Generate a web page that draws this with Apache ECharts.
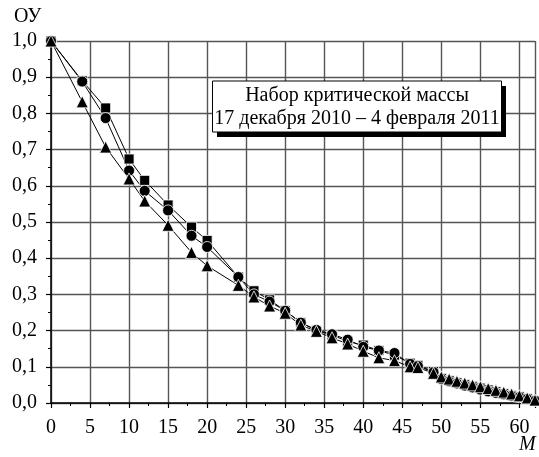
<!DOCTYPE html>
<html>
<head>
<meta charset="utf-8">
<script src="https://cdn.jsdelivr.net/npm/echarts@6/dist/echarts.min.js"></script>
<style>html,body{margin:0;padding:0;background:#fff}#c{width:539px;height:457px}</style>
</head>
<body>
<div id="c"></div>
<script>
const xValues = [0,4,7,10,12,15,18,20,24,26,28,30,32,34,36,38,40,42,44,46,47,49,50,51,52,53,54,55,56,57,58,59,60,61,62];
const squares = [1.0,0.890,0.815,0.674,0.615,0.547,0.486,0.449,0.348,0.310,0.285,0.255,0.222,0.200,0.188,0.170,0.160,0.145,0.132,0.110,0.104,0.087,0.068,0.062,0.056,0.051,0.046,0.041,0.036,0.031,0.026,0.021,0.017,0.012,0.006];
const circles = [1.0,0.888,0.787,0.642,0.586,0.532,0.462,0.431,0.348,0.300,0.280,0.255,0.222,0.202,0.190,0.175,0.155,0.145,0.138,0.108,0.102,0.085,0.066,0.060,0.054,0.048,0.043,0.037,0.032,0.028,0.024,0.020,0.016,0.011,0.006];
const triangles = [1.0,0.832,0.707,0.619,0.558,0.491,0.416,0.379,0.325,0.293,0.268,0.248,0.215,0.198,0.180,0.163,0.143,0.125,0.117,0.100,0.098,0.082,0.072,0.066,0.060,0.055,0.050,0.045,0.040,0.035,0.030,0.025,0.020,0.014,0.008];
const yLabels = ['0,0','0,1','0,2','0,3','0,4','0,5','0,6','0,7','0,8','0,9','1,0'];
const titleLines = ['Набор критической массы','17 декабря 2010 – 4 февраля 2011'];
const yName = 'ОУ';
const xName = 'M';

const font = '"Liberation Serif","Times New Roman",serif';
function pairs(ys){ return xValues.map((x,i)=>[x, ys[i]]); }
function mkSeries(name, symbol, size, ys){
  return {
    name, type:'line', data:pairs(ys), symbol, symbolSize:size,
    lineStyle:{color:'#000', width:1},
    itemStyle:{color:'#000', borderColor:'#fff', borderWidth:0.8},
    animation:false, z:3
  };
}
const chart = echarts.init(document.getElementById('c'), null, {renderer:'canvas'});
chart.setOption({
  animation:false,
  grid:{left:51, right:4, top:41, bottom:54, containLabel:false},
  xAxis:{
    type:'value', min:0, max:62, interval:5,
    axisLine:{show:true, lineStyle:{color:'#000', width:1.5}},
    axisTick:{show:true, inside:false, length:5, lineStyle:{color:'#000', width:1.2}},
    minorTick:{show:true, splitNumber:2, length:3, lineStyle:{color:'#000', width:1}},
    splitLine:{show:true, lineStyle:{color:'#555', width:1.4}},
    axisLabel:{margin:15, color:'#000', fontFamily:font, fontSize:20,
      showMaxLabel:false}
  },
  yAxis:{
    type:'value', min:0, max:1, interval:0.1,
    axisLine:{show:true, lineStyle:{color:'#000', width:1.5}},
    axisTick:{show:true, inside:false, length:5, lineStyle:{color:'#000', width:1.2}},
    minorTick:{show:true, splitNumber:2, length:3, lineStyle:{color:'#000', width:1}},
    splitLine:{show:true, lineStyle:{color:'#555', width:1.4}},
    axisLabel:{margin:14, color:'#000', fontFamily:font, fontSize:20,
      formatter:(v)=>yLabels[Math.round(v*10)]}
  },
  graphic:[
    {type:'text', left:14, top:7, style:{text:yName, font:'20px '+font, fill:'#000'}},
    {type:'text', left:519, top:435, style:{text:xName, font:'italic 20px '+font, fill:'#000'}},
    {type:'rect', shape:{x:217, y:86, width:289, height:51}, style:{fill:'#000'}, z:10},
    {type:'rect', shape:{x:212.5, y:81, width:289, height:51}, style:{fill:'#fff', stroke:'#000', lineWidth:1}, z:11},
    {type:'text', x:357, y:107, z:12, style:{text:titleLines.join('\n'), font:'20px '+font, fill:'#000', align:'center', verticalAlign:'middle', lineHeight:23}}
  ],
  series:[
    mkSeries('squares','rect',10,squares),
    mkSeries('circles','circle',11,circles),
    mkSeries('triangles','triangle',12,triangles)
  ]
});
</script>
</body>
</html>
